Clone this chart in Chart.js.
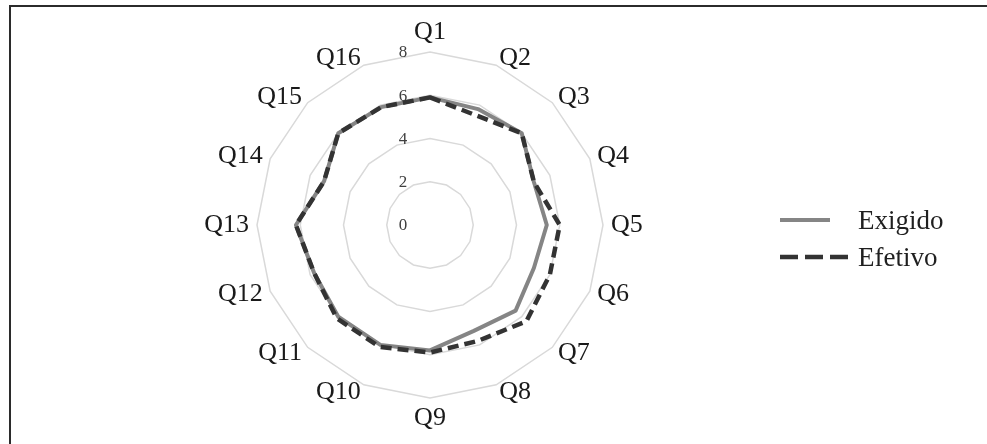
<!DOCTYPE html>
<html>
<head>
<meta charset="utf-8">
<script src="https://cdn.jsdelivr.net/npm/chart.js@4.4.1/dist/chart.umd.min.js"></script>
<style>
  html, body { margin: 0; padding: 0; background: #fff; }
  #wrap { position: relative; width: 987px; height: 444px; overflow: hidden; }
  #frame { position: absolute; left: 9px; top: 5px; right: 0; bottom: 0; border-top: 2px solid #2b2b2b; border-left: 2px solid #2b2b2b; pointer-events: none; }
  canvas { position: absolute; left: 0; top: 0; }
</style>
</head>
<body>
<div id="wrap">
  <canvas id="radar" width="987" height="444"></canvas>
  <div id="frame"></div>
</div>
<script>
// Questions on the radar axes
var categories = ['Q1', 'Q2', 'Q3', 'Q4', 'Q5', 'Q6', 'Q7', 'Q8',
                  'Q9', 'Q10', 'Q11', 'Q12', 'Q13', 'Q14', 'Q15', 'Q16'];
// Values
var exigido = [5.9, 5.8, 6.0, 5.2, 5.4, 5.2, 5.6, 5.3, 5.8, 6.0, 6.0, 5.8, 6.2, 5.3, 6.0, 5.9];
var efetivo = [5.9, 5.5, 6.0, 5.2, 6.0, 6.0, 6.3, 5.8, 5.9, 6.1, 6.1, 5.8, 6.2, 5.3, 6.0, 5.9];
var tickValues = [0, 2, 4, 6, 8];
var seriesNames = ['Exigido', 'Efetivo'];

var serif = "'Liberation Serif', 'Times New Roman', serif";

// Tick numbers sit left of the vertical axis, not on it
var tickLabelsPlugin = {
  id: 'tickLabels',
  beforeDatasetsDraw: function(chart) {
    var r = chart.scales.r;
    var ctx = chart.ctx;
    ctx.save();
    ctx.font = '17px ' + serif;
    ctx.fillStyle = '#404040';
    ctx.textAlign = 'center';
    ctx.textBaseline = 'middle';
    tickValues.forEach(function(v) {
      var d = r.getDistanceFromCenterForValue(v);
      ctx.fillText(String(v), r.xCenter - 27, r.yCenter - d + 1);
    });
    ctx.restore();
  }
};

// Category labels: anchored just outside the outer ring, vertically centred (Excel style)
var pointLabelsPlugin = {
  id: 'anchoredPointLabels',
  afterDraw: function(chart) {
    var r = chart.scales.r;
    var ctx = chart.ctx;
    var n = categories.length;
    ctx.save();
    ctx.font = '26px ' + serif;
    ctx.fillStyle = '#1a1a1a';
    categories.forEach(function(lbl, i) {
      var p = r.getPointPosition(i, r.drawingArea + 8);
      var y = p.y;
      ctx.textBaseline = 'middle';
      if (i === 0) {
        ctx.textAlign = 'center';
        y = p.y - 12;
      } else if (i === n / 2) {
        ctx.textAlign = 'center';
        y = p.y + 12;
      } else if (i < n / 2) {
        ctx.textAlign = 'left';
      } else {
        ctx.textAlign = 'right';
      }
      ctx.fillText(lbl, p.x, y);
    });
    ctx.restore();
  }
};

// Legend drawn by hand to match the line samples
var legendPlugin = {
  id: 'sideLegend',
  afterDraw: function(chart) {
    var ctx = chart.ctx;
    var items = [
      { ds: chart.data.datasets[0], y: 220, x2: 830, dash: [] },
      { ds: chart.data.datasets[1], y: 257, x2: 850, dash: [18, 7] }
    ];
    ctx.save();
    items.forEach(function(it) {
      ctx.strokeStyle = it.ds.borderColor;
      ctx.lineWidth = it.ds.borderWidth;
      ctx.setLineDash(it.dash);
      ctx.beginPath();
      ctx.moveTo(780, it.y);
      ctx.lineTo(it.x2, it.y);
      ctx.stroke();
      ctx.setLineDash([]);
      ctx.font = '27px ' + serif;
      ctx.fillStyle = '#1f1f1f';
      ctx.textAlign = 'left';
      ctx.textBaseline = 'middle';
      ctx.fillText(it.ds.label, 858, it.y + 2);
    });
    ctx.restore();
  }
};

var chart = new Chart(document.getElementById('radar').getContext('2d'), {
  type: 'radar',
  data: {
    labels: categories,
    datasets: [{
      label: seriesNames[0],
      data: exigido,
      borderColor: '#858585',
      borderWidth: 4,
      pointRadius: 0,
      fill: false,
      borderJoinStyle: 'round',
      order: 1
    }, {
      label: seriesNames[1],
      data: efetivo,
      borderColor: '#333333',
      borderWidth: 4.5,
      borderDash: [11, 6],
      pointRadius: 0,
      fill: false,
      borderJoinStyle: 'round',
      order: 0
    }]
  },
  options: {
    responsive: false,
    animation: false,
    layout: { padding: { left: 0, right: 127, top: 52, bottom: 46 } },
    plugins: {
      legend: { display: false },
      tooltip: { enabled: false }
    },
    scales: {
      r: {
        min: 0,
        max: 8,
        ticks: { stepSize: 2, display: false },
        angleLines: { display: false },
        grid: { color: '#d9d9d9', lineWidth: 1.5, circular: false },
        pointLabels: { display: false }
      }
    }
  },
  plugins: [tickLabelsPlugin, pointLabelsPlugin, legendPlugin]
});
</script>
</body>
</html>
